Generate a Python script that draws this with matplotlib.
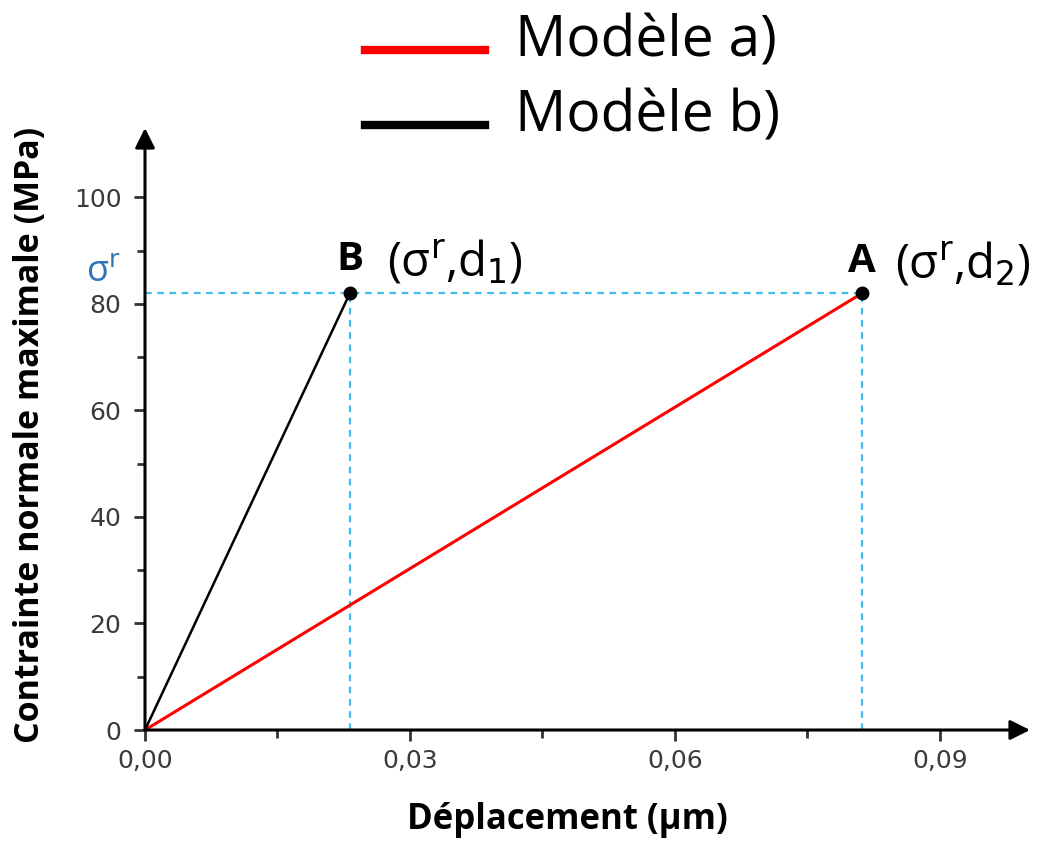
import numpy as np
import matplotlib.pyplot as plt

# data
sigma_r = 82.0
d1 = 0.0232
d2 = 0.0812
model_a_x = [0.0, d2]
model_a_y = [0.0, sigma_r]
model_b_x = [0.0, d1]
model_b_y = [0.0, sigma_r]
x_ticks = [0.0, 0.03, 0.06, 0.09]
x_labels = ['0,00', '0,03', '0,06', '0,09']
y_ticks = [0, 20, 40, 60, 80, 100]

W, H = 1048, 841
fig = plt.figure(figsize=(W / 100, H / 100), dpi=100)
ax = fig.add_axes([145 / W, (H - 730) / H, 885 / W, 602 / H])
ax.set_xlim(0, 0.1002)
ax.set_ylim(0, 113)

axcol = '#333333'
for s in ['top', 'right', 'left', 'bottom']:
    ax.spines[s].set_visible(False)
# axes with arrow heads
ax.annotate('', xy=(1, 0), xytext=(0, 0), xycoords='axes fraction',
            arrowprops=dict(arrowstyle='-|>,head_length=1.2,head_width=0.6', color='black', lw=2.2,
                            shrinkA=0, shrinkB=0))
ax.annotate('', xy=(0, 1), xytext=(0, 0), xycoords='axes fraction',
            arrowprops=dict(arrowstyle='-|>,head_length=1.2,head_width=0.6', color='black', lw=2.2,
                            shrinkA=0, shrinkB=0))

ax.set_xticks(x_ticks)
ax.set_xticklabels(x_labels)
ax.set_xticks([0.015, 0.045, 0.075], minor=True)
ax.set_yticks(y_ticks)
ax.set_yticks([10, 30, 50, 70, 90], minor=True)
ax.tick_params(which='major', length=8, width=2, color=axcol, labelsize=18,
               labelcolor='#3a3a3a', pad=6)
ax.tick_params(axis='y', which='major', pad=9)
ax.tick_params(which='minor', length=6, width=2, color=axcol)
for t in ax.get_xticklabels() + ax.get_yticklabels():
    t.set_fontfamily('DejaVu Sans')

# dashed guide lines
cyan = '#40bdf0'
ax.plot([0, d2], [sigma_r, sigma_r], ls=(0, (3, 2.5)), color=cyan, lw=1.6)
ax.plot([d1, d1], [0, sigma_r], ls=(0, (3, 2.5)), color=cyan, lw=1.6)
ax.plot([d2, d2], [0, sigma_r], ls=(0, (3, 2.5)), color=cyan, lw=1.6)

ax.plot(model_a_x, model_a_y, color='#ff0000', lw=2.2)
ax.plot(model_b_x, model_b_y, color='black', lw=1.8)
ax.plot([d1, d2], [sigma_r, sigma_r], 'o', color='black', ms=9, zorder=5)

# point labels
ax.text(d1, sigma_r + 2.7, 'B', fontsize=29, fontweight='bold', family='Open Sans',
        ha='center', va='bottom')
ax.text(d1 + 0.0042, sigma_r + 1.2, r'(σ$^{\mathrm{r}}$,d$_{\mathrm{1}}$)', fontsize=34,
        family='Open Sans', ha='left', va='bottom')
ax.text(d2, sigma_r + 2.2, 'A', fontsize=29, fontweight='bold', family='Open Sans',
        ha='center', va='bottom')
ax.text(d2 + 0.0037, sigma_r + 0.9, r'(σ$^{\mathrm{r}}$,d$_{\mathrm{2}}$)', fontsize=34,
        family='Open Sans', ha='left', va='bottom')
ax.text(-0.0027, sigma_r + 0.6, r'σ$^{\mathrm{r}}$', fontsize=26, color='#2e75b6',
        family='Open Sans', ha='right', va='bottom')

# axis labels
fig.text(567 / W, 1 - 820 / H, 'Déplacement (µm)', fontsize=25, fontweight='bold',
         family='Open Sans', ha='center', va='center')
fig.text(30 / W, 1 - 435 / H, 'Contrainte normale maximale (MPa)', fontsize=24.5,
         fontweight='bold', family='Open Sans', ha='center', va='center', rotation=90)

# legend drawn by hand at the top
fig.lines.append(plt.Line2D([365 / W, 485 / W], [1 - 50 / H, 1 - 50 / H], color='#ff0000',
                            lw=6, transform=fig.transFigure))
fig.lines.append(plt.Line2D([365 / W, 485 / W], [1 - 125 / H, 1 - 125 / H], color='black',
                            lw=6, transform=fig.transFigure))
fig.text(515 / W, 1 - 42 / H, 'Modèle a)', fontsize=41, family='Open Sans',
         ha='left', va='center')
fig.text(515 / W, 1 - 117 / H, 'Modèle b)', fontsize=41, family='Open Sans',
         ha='left', va='center')

plt.savefig('out.png', dpi=100)
